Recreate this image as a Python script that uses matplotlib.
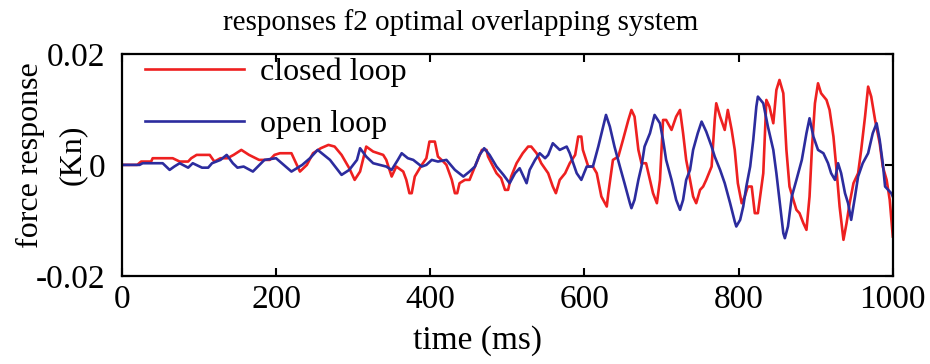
import matplotlib
matplotlib.use("Agg")
import matplotlib.pyplot as plt

# ---- data ----
t_closed = [0, 20, 25, 38, 40, 66, 75, 86, 90, 97, 114, 120, 128, 137, 145, 155, 165, 178, 192, 198,
            205, 220, 231, 240, 248, 258, 268, 276, 285, 295, 302, 309, 317, 326, 339, 343, 350, 356,
            365, 369, 373, 376, 380, 389, 395, 399, 406, 410, 417, 421, 428, 432, 435, 438, 445, 451,
            458, 467, 473, 475, 486, 492, 497, 501, 505, 512, 520, 527, 531, 538, 544, 553, 559, 563,
            568, 575, 581, 588, 592, 596, 598, 605, 611, 616, 622, 629, 631, 637, 644, 650, 657, 661,
            665, 670, 674, 680, 685, 689, 694, 698, 702, 706, 713, 719, 724, 728, 732, 737, 741, 745,
            750, 754, 758, 765, 769, 771, 776, 782, 786, 791, 795, 799, 804, 808, 812, 817, 821, 825,
            832, 836, 840, 845, 849, 853, 858, 862, 866, 871, 875, 879, 884, 888, 892, 895, 899, 903,
            907, 914, 918, 923, 927, 931, 936, 940, 944, 949, 955, 959, 964, 968, 972, 977, 983, 987,
            992, 996, 1000]
v_closed = [0, 0, 0.0006, 0.0006, 0.0012, 0.0012, 0.0006, 0.0006, 0.0012, 0.0018, 0.0018, 0.0006,
            0.0012, 0.0012, 0.0018, 0.0027, 0.0018, 0.0009, 0.0009, 0.0018, 0.0021, 0.0021, -0.0012,
            0.0000, 0.0021, 0.0030, 0.0036, 0.0033, 0.0018, -0.0006, -0.0027, -0.0012, 0.0033, 0.0024,
            0.0018, 0.0009, -0.0021, -0.0003, -0.0012, -0.0027, -0.0051, -0.0051, -0.0021, 0.0000,
            0.0012, 0.0042, 0.0042, 0.0015, 0.0006, 0.0000, -0.0027, -0.0051, -0.0051, -0.0033,
            -0.0027, -0.0027, -0.0003, 0.0027, 0.0027, 0.0015, -0.0015, -0.0024, -0.0045, -0.0045,
            -0.0021, 0.0003, 0.0021, 0.0033, 0.0033, 0.0021, 0.0003, -0.0015, -0.0039, -0.0051,
            -0.0027, -0.0015, 0.0003, 0.0018, 0.0051, 0.0051, 0.0027, -0.0003, -0.0003, -0.0015,
            -0.0057, -0.0075, -0.0051, 0.0009, 0.0015, 0.0045, 0.0081, 0.0099, 0.0087, 0.0027, 0.0003,
            0.0003, -0.0027, -0.0051, -0.0069, -0.0027, 0.0081, 0.0081, 0.0063, 0.0087, 0.0099, 0.0057,
            0.0009, -0.0027, -0.0057, -0.0069, -0.0045, -0.0039, -0.0027, -0.0003, 0.0081, 0.0111,
            0.0087, 0.0063, 0.0099, 0.0063, 0.0027, -0.0033, -0.0069, -0.0057, -0.0039, -0.0039,
            -0.0087, -0.0087, -0.0015, 0.0117, 0.0105, 0.0075, 0.0135, 0.0153, 0.0129, 0.0027, -0.0039,
            -0.0063, -0.0081, -0.0087, -0.0105, -0.0117, -0.0057, 0.0027, 0.0111, 0.0147, 0.0129,
            0.0117, 0.0099, 0.0051, -0.0009, -0.0075, -0.0135, -0.0105, -0.0069, -0.0033, -0.0015,
            0.0027, 0.0087, 0.0141, 0.0123, 0.0081, 0.0039, -0.0003, -0.0027, -0.0063, -0.0129]

t_open = [0, 23, 27, 30, 53, 62, 68, 75, 86, 92, 104, 112, 117, 128, 136, 144, 150, 158, 170, 185,
          200, 220, 234, 244, 254, 270, 285, 295, 305, 309, 317, 326, 343, 350, 358, 363, 371, 378,
          389, 395, 402, 410, 421, 432, 443, 451, 458, 464, 470, 477, 486, 495, 503, 510, 516, 525,
          529, 536, 542, 549, 553, 559, 568, 577, 581, 590, 596, 603, 611, 618, 628, 633, 639, 646,
          652, 659, 661, 665, 670, 674, 678, 685, 691, 698, 702, 706, 713, 719, 724, 728, 732, 737,
          741, 747, 752, 758, 765, 769, 776, 782, 789, 795, 797, 802, 806, 810, 815, 819, 823, 825,
          832, 838, 845, 849, 853, 858, 860, 864, 869, 875, 882, 888, 892, 897, 903, 910, 916, 920,
          925, 929, 933, 938, 942, 946, 951, 955, 961, 968, 974, 979, 983, 987, 990, 994, 998, 1000]
v_open = [0, 0, 0.0003, 0.0003, 0.0003, -0.0009, -0.0003, 0.0003, -0.0005, 0.0003, -0.0005, -0.0005,
          0.0003, 0.0009, 0.0018, 0.0003, -0.0005, -0.0003, -0.0012, 0.0009, 0.0012, -0.0012, 0.0000,
          0.0012, 0.0027, 0.0009, -0.0018, -0.0009, 0.0009, 0.0030, 0.0015, 0.0003, -0.0003, -0.0009,
          0.0009, 0.0021, 0.0012, 0.0009, -0.0003, 0.0000, 0.0009, 0.0006, 0.0009, -0.0009, -0.0021,
          -0.0012, -0.0003, 0.0018, 0.0030, 0.0018, -0.0003, -0.0018, -0.0033, -0.0015, -0.0006,
          -0.0033, -0.0009, 0.0009, 0.0021, 0.0012, 0.0018, 0.0039, 0.0027, 0.0033, 0.0021, -0.0015,
          -0.0027, -0.0003, -0.0003, 0.0033, 0.0090, 0.0069, 0.0033, -0.0003, -0.0033, -0.0069,
          -0.0078, -0.0063, -0.0027, -0.0003, 0.0033, 0.0057, 0.0090, 0.0075, 0.0045, 0.0009, -0.0027,
          -0.0063, -0.0081, -0.0063, -0.0027, -0.0009, 0.0027, 0.0057, 0.0078, 0.0060, 0.0033, 0.0015,
          -0.0009, -0.0033, -0.0069, -0.0102, -0.0111, -0.0099, -0.0075, -0.0039, -0.0003, 0.0045,
          0.0105, 0.0123, 0.0111, 0.0069, 0.0027, -0.0015, -0.0063, -0.0123, -0.0132, -0.0111, -0.0057,
          -0.0027, 0.0009, 0.0057, 0.0084, 0.0051, 0.0027, 0.0021, 0.0003, -0.0015, -0.0027, 0.0003,
          -0.0015, -0.0051, -0.0069, -0.0099, -0.0057, -0.0021, 0.0003, 0.0021, 0.0057, 0.0075, 0.0045,
          0.0003, -0.0039, -0.0045, -0.0051, -0.0057]

x_ticks = [0, 200, 400, 600, 800, 1000]
x_tick_labels = ["0", "200", "400", "600", "800", "1000"]
y_ticks = [-0.02, 0, 0.02]
y_tick_labels = ["-0.02", "0", "0.02"]
series_labels = ["closed loop", "open loop"]

plt.rcParams['font.family'] = ['Liberation Serif', 'DejaVu Serif']

fig = plt.figure(figsize=(9.3, 3.64), dpi=100)
ax = fig.add_axes([0.131, 0.242, 0.829, 0.610])

ax.plot(t_closed, v_closed, color='#ee2020', lw=1.9, label=series_labels[0])
ax.plot(t_open, v_open, color='#2c2c9e', lw=1.9, label=series_labels[1])

ax.set_xlim(0, 1000)
ax.set_ylim(-0.02, 0.02)
ax.set_xticks(x_ticks)
ax.set_xticklabels(x_tick_labels)
ax.set_yticks(y_ticks)
ax.set_yticklabels(y_tick_labels)
ax.tick_params(direction='in', top=True, right=True, length=6, width=1.5,
               labelsize=24, colors='black')
ax.tick_params(axis='x', pad=6)
ax.tick_params(axis='y', pad=12)
for s in ax.spines.values():
    s.set_linewidth(1.6)
    s.set_color('black')

leg = ax.legend(loc='upper left', bbox_to_anchor=(0.03, 0.985), frameon=False,
                fontsize=23, handlelength=3.1, handletextpad=0.5, labelspacing=0.72,
                borderpad=0.0, borderaxespad=0.0)

fig.text(461 / 930, 1 - 23 / 364, "responses f2 optimal overlapping system",
         ha='center', va='center', fontsize=21)
fig.text(477 / 930, 1 - 341 / 364, "time (ms)", ha='center', va='center', fontsize=24)
fig.text(30 / 930, 1 - 155 / 364, "force response", rotation=90, ha='center', va='center',
         fontsize=23)
fig.text(72 / 930, 1 - 155 / 364, "(Kn)", rotation=90, ha='center', va='center', fontsize=23)

fig.savefig("out.png", dpi=100)
